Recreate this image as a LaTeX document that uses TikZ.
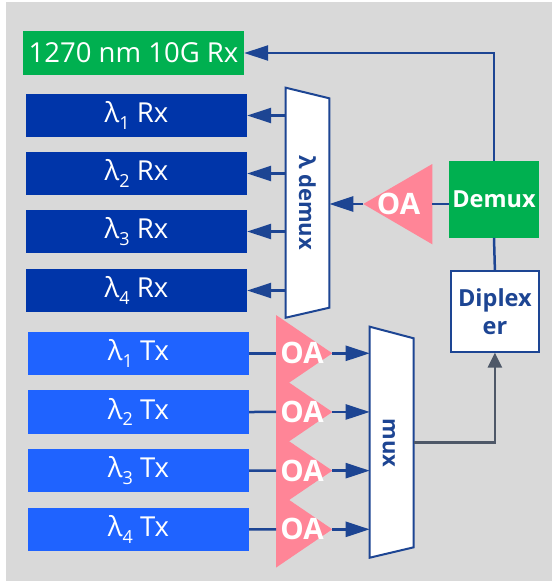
\documentclass[tikz,border=0pt]{standalone}
\usepackage{fontspec}
\setmainfont{Open Sans}
\usetikzlibrary{arrows.meta}
\definecolor{bgc}{HTML}{D9D9D9}
\definecolor{grn}{HTML}{00B050}
\definecolor{rxblue}{HTML}{0035A9}
\definecolor{txblue}{HTML}{1F63FF}
\definecolor{pinkc}{HTML}{FF8597}
\definecolor{lineblue}{HTML}{1D4593}
\definecolor{grayln}{HTML}{4E5868}
\newcommand\lamsub[1]{λ\raisebox{-6.5pt}{\fontsize{18}{18}\selectfont #1}}
\begin{document}
\begin{tikzpicture}[x=1pt,y=-1pt,
  box/.style={minimum width=221pt, minimum height=43.5pt, inner sep=0pt, text=white, font=\fontsize{27.5}{27.5}\selectfont},
  rxbox/.style={box, fill=rxblue},
  txbox/.style={box, fill=txblue},
  link/.style={draw=lineblue, line width=2.5pt},
  arr/.style={link, -{Triangle[length=24pt,width=15pt]}},
  shapeline/.style={draw=lineblue, line width=2pt, fill=white},
  oatext/.style={text=white, font=\fontsize{29.5}{29.5}\selectfont\bfseries, inner sep=0pt},
  vtext/.style={rotate=-90, text=lineblue, font=\fontsize{22}{22}\selectfont\bfseries, inner sep=0pt}
]
\useasboundingbox (0,0) rectangle (552,581);
\fill[bgc] (6,2) rectangle (552,581);

% receiver boxes
\node[box, fill=grn] (r0) at (133.5,53) {1270 nm 10G Rx};
\node[rxbox] (rx1) at (136.5,115.5) {\lamsub{1} Rx};
\node[rxbox] (rx2) at (136.5,173.5) {\lamsub{2} Rx};
\node[rxbox] (rx3) at (136.5,231.5) {\lamsub{3} Rx};
\node[rxbox] (rx4) at (136.5,290.5) {\lamsub{4} Rx};

% transmitter boxes
\node[txbox] (tx1) at (138.5,353.3) {\lamsub{1} Tx};
\node[txbox] (tx2) at (138.5,412.0) {\lamsub{2} Tx};
\node[txbox] (tx3) at (138.5,470.7) {\lamsub{3} Tx};
\node[txbox] (tx4) at (138.5,529.3) {\lamsub{4} Tx};

% lambda demux trapezoid
\coordinate (dA) at (285.7,87.7);
\coordinate (dB) at (329.3,98.3);
\coordinate (dC) at (329.3,307.7);
\coordinate (dD) at (285.7,317.7);
\draw[shapeline] (dA) -- (dB) -- (dC) -- (dD) -- cycle;
\node[vtext] (ldmx) at (307.5,202.5) {λ demux};

\foreach \r in {rx1,rx2,rx3,rx4}{
  \draw[arr] (\r.east -| dA) -- (\r.east);
}

% OA on the receive side
\coordinate (oaT) at (363.3,204);
\coordinate (oaU) at (432.3,164);
\coordinate (oaL) at (432.3,244.3);
\coordinate (oaR) at (432.3,204);
\fill[pinkc] (oaT) -- (oaU) -- (oaL) -- cycle;
\node[oatext] (oa0) at (398.5,204) {OA};
\draw[arr] (oaT) -- (oaT -| dB);

% Demux and diplexer
\node[fill=grn, minimum width=90pt, minimum height=76.7pt, inner sep=0pt, text=white, font=\fontsize{23.5}{23.5}\selectfont\bfseries] (dbox) at (494,199.3) {Demux};
\node[shapeline, minimum width=88.3pt, minimum height=80.7pt, inner sep=0pt, align=center, text=lineblue, font=\fontsize{23.5}{28}\selectfont\bfseries] (dip) at (494.9,311.3) {Diplex\\er};
\draw[link] (oaR) -- (oaR -| dbox.west);
\draw[arr] (dbox.north) -- (dbox.north |- r0.east) -- (r0.east);
\draw[link] (dbox.south) -- (dip.north);

% mux trapezoid
\coordinate (mA) at (369.7,326.7);
\coordinate (mB) at (413.7,338.3);
\coordinate (mC) at (413.7,547.3);
\coordinate (mD) at (369.7,557.7);
\draw[shapeline] (mA) -- (mB) -- (mC) -- (mD) -- cycle;
\node[vtext] (mx) at (389,443) {mux};
\coordinate (mo) at (413.7,442.7);
\draw[draw=grayln, line width=2.5pt, -{Triangle[length=15pt,width=14pt]}] (mo) -- (mo -| dip.south) -- (dip.south);

% OA on the transmit side
\foreach \t/\k in {tx1/1,tx2/2,tx3/3,tx4/4}{
  \coordinate (ap\k) at (332.3,353.3+58.67*\k-58.67);
  \fill[pinkc] (276,353.3+58.67*\k-58.67-38.3) -- (ap\k) -- (276,353.3+58.67*\k-58.67+38.3) -- cycle;
  \coordinate (tl\k) at (276,353.3+58.67*\k-58.67);
}
\foreach \t/\k in {tx1/1,tx2/2,tx3/3,tx4/4}{
  \node[oatext] (oa\k) at (302,353.3+58.67*\k-58.67) {OA};
  \draw[link] (\t.east) -- (tl\k);
  \draw[arr] (ap\k) -- (ap\k -| mA);
}
\end{tikzpicture}
\end{document}
